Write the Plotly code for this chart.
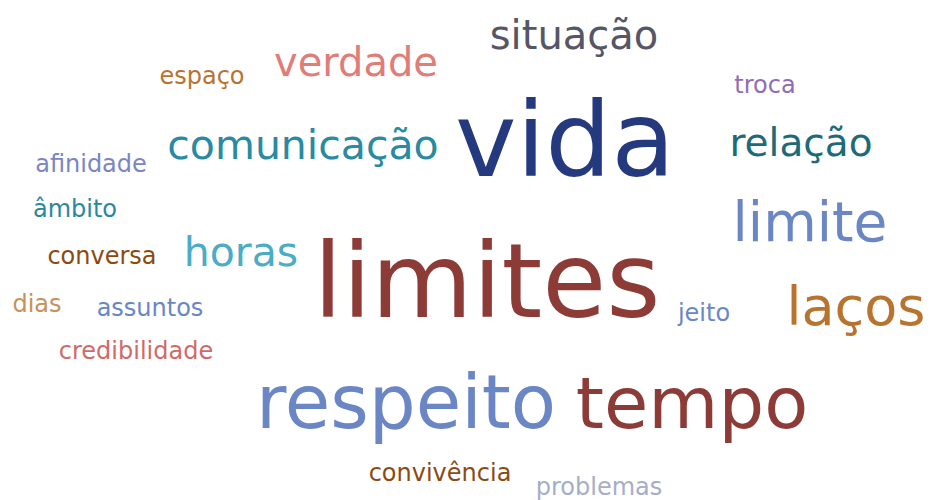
import plotly.graph_objects as go

# ---- data ----
words = ["vida", "limites", "respeito", "tempo", "limite", "laços",
         "comunicação", "situação", "verdade", "horas", "relação",
         "troca", "espaço", "afinidade", "âmbito", "conversa", "dias",
         "assuntos", "credibilidade", "convivência", "problemas", "jeito"]
weights = [26, 26, 18.5, 18, 13.75, 13.5,
           10.25, 10, 10, 10.25, 9.75,
           6, 6, 6, 6, 6, 6,
           6, 6, 6, 6, 6]

# ---- layout (word placement) ----
center_x = [565, 487, 406, 692, 810, 856,
            303, 574, 356, 241, 801,
            765, 202, 91, 75, 102, 37,
            150, 136, 440, 599, 704]
baseline_y = [179, 320, 430, 430, 243, 327,
              160, 50, 77, 267, 157,
              94, 85, 173, 218, 265, 313,
              317, 360, 482, 496, 322]

# ---- styles ----
colors = ["#253A7E", "#8C3B37", "#6A86C4", "#8C3B37", "#6A86C4", "#B8732F",
          "#2A8AA3", "#555666", "#E07D78", "#4BACC6", "#1D6B78",
          "#8E6DB6", "#B8732F", "#7B85C4", "#2A87A0", "#8B4A12", "#C8905A",
          "#6A86C4", "#D06A68", "#8B4A12", "#A5AEC8", "#6A86C4"]
px_per_weight = 4.0

sizes = [w * px_per_weight for w in weights]
# measured: baseline sits about 0.28em below the anchor for middle-aligned text
anchor_y = [b - 0.28 * s for b, s in zip(baseline_y, sizes)]

fig = go.Figure(go.Scatter(
    x=center_x, y=anchor_y, text=words, mode="text",
    textposition="middle center",
    textfont=dict(family="DejaVu Sans", size=sizes, color=colors),
    hoverinfo="text",
))
fig.update_layout(
    width=932, height=500,
    margin=dict(l=0, r=0, t=0, b=0),
    paper_bgcolor="white", plot_bgcolor="white",
    showlegend=False,
    xaxis=dict(range=[0, 932], visible=False, fixedrange=True),
    yaxis=dict(range=[500, 0], visible=False, fixedrange=True),
)
fig.write_html("out.html",
               config={"displayModeBar": False},
               post_script="document.body.style.margin='0';document.body.style.overflow='hidden';")
